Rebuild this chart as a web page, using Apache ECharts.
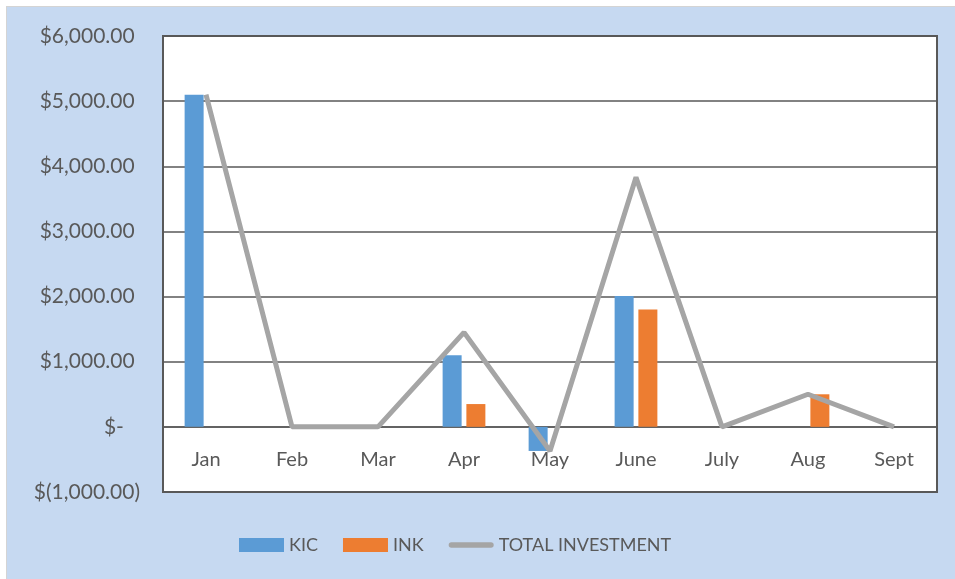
<!DOCTYPE html>
<html>
<head>
<meta charset="utf-8">
<title>Investment</title>
<script src="https://cdn.jsdelivr.net/npm/echarts@6/dist/echarts.min.js"></script>
<style>
  body { margin: 0; background: #ffffff; }
  #panel { position: absolute; left: 6px; top: 6px; width: 949px; height: 573px; background: #c6d9f1; border-left: 1px solid #d4d4d4; border-top: 1px solid #d4d4d4; }
  #main { position: absolute; left: 0; top: 0; width: 955px; height: 579px; }
</style>
</head>
<body>
<div id="panel"></div>
<div id="main"></div>
<script>
// months
var months = ['Jan', 'Feb', 'Mar', 'Apr', 'May', 'June', 'July', 'Aug', 'Sept'];
// KIC / INK monthly amounts
var kic = [5100, null, null, 1100, -370, 2010, null, null, null];
var ink = [null, null, null, 350, null, 1800, null, 500, null];
var totalInvestment = [5100, 0, 0, 1450, -370, 3830, 0, 500, 0];

var chart = echarts.init(document.getElementById('main'));

function money(v) {
    if (v === 0) return '$-   ';
    var s = Math.abs(v).toLocaleString('en-US', { minimumFractionDigits: 2, maximumFractionDigits: 2 });
    return v < 0 ? '$(' + s + ')' : '$' + s + ' ';
}

var txt = '#595959';
var font = 'Lato';
var plotH = 579 - 36 - 87;

chart.setOption({
    backgroundColor: 'transparent',
    textStyle: { fontFamily: font },
    grid: {
        left: 163, right: 18, top: 36, bottom: 87,
        show: true,
        backgroundColor: '#ffffff',
        borderColor: '#595959',
        borderWidth: 2
    },
    legend: {
        left: 234,
        top: 531,
        itemWidth: 45,
        itemHeight: 14,
        itemGap: 25,
        textStyle: { color: txt, fontSize: 18, fontFamily: font },
        data: [
            { name: 'KIC', icon: 'rect' },
            { name: 'INK', icon: 'rect' },
            { name: 'TOTAL INVESTMENT', icon: 'path://M3,0 L46,0 A3,3 0 0 1 46,6 L3,6 A3,3 0 0 1 3,0 Z' }
        ]
    },
    xAxis: {
        type: 'category',
        data: months,
        // sit the axis on the zero line (one step above the bottom)
        offset: -plotH / 7,
        axisLine: { onZero: false, lineStyle: { color: '#595959', width: 1.5 } },
        axisTick: { show: false },
        axisLabel: { color: txt, fontSize: 20, margin: 23 }
    },
    yAxis: {
        type: 'value',
        min: -1000,
        max: 6000,
        interval: 1000,
        axisLine: { show: false },
        axisTick: { show: false },
        splitLine: { lineStyle: { color: '#595959', width: 1.5 } },
        axisLabel: { color: txt, fontSize: 21, margin: 23, formatter: money }
    },
    series: [
        {
            name: 'KIC',
            type: 'bar',
            data: kic,
            barWidth: 19,
            barGap: '25%',
            itemStyle: { color: '#5b9bd5' }
        },
        {
            name: 'INK',
            type: 'bar',
            data: ink,
            barWidth: 19,
            itemStyle: { color: '#ed7d31' }
        },
        {
            name: 'TOTAL INVESTMENT',
            type: 'line',
            data: totalInvestment,
            showSymbol: false,
            symbol: 'none',
            z: 5,
            lineStyle: { color: '#a5a5a5', width: 5 },
            itemStyle: { color: '#a5a5a5' }
        }
    ]
});
</script>
</body>
</html>
